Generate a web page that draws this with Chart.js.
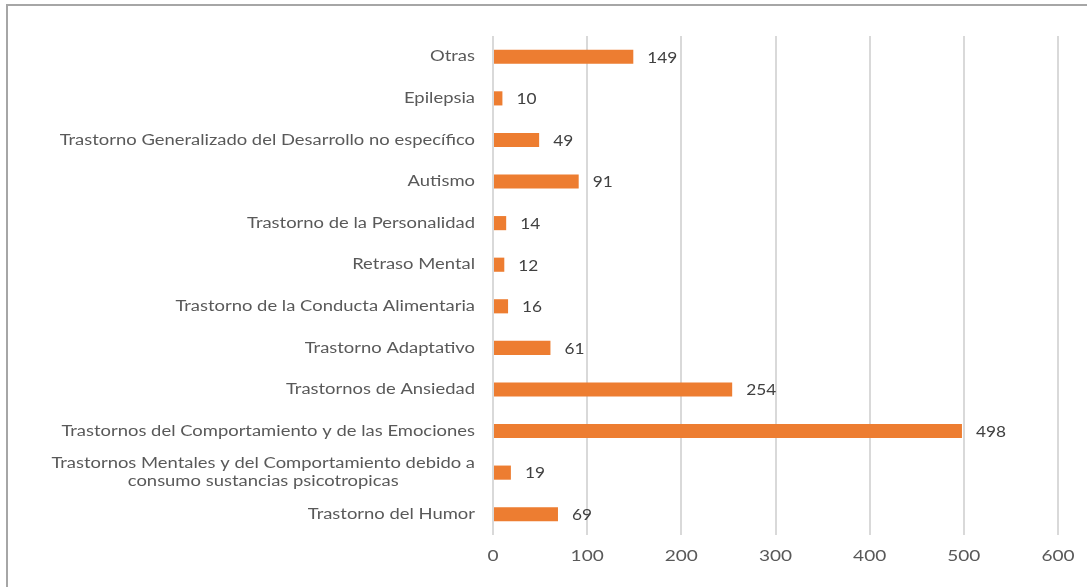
<!DOCTYPE html>
<html>
<head>
<meta charset="utf-8">
<script src="https://cdn.jsdelivr.net/npm/chart.js@4.4.1/dist/chart.umd.min.js"></script>
<style>
  html, body { margin: 0; padding: 0; background: #fff; }
  #wrap { position: relative; width: 1087px; height: 587px; overflow: hidden; }
  #frame { position: absolute; left: 6px; top: 4px; width: 1200px; height: 700px;
           border-left: 2px solid #a6a6a6; border-top: 2px solid #a6a6a6; box-sizing: border-box; }
  canvas { position: absolute; left: 0; top: 0; }
</style>
</head>
<body>
<div id="wrap">
  <div id="frame"></div>
  <canvas id="c" width="1087" height="587"></canvas>
</div>
<script>
const categories = [
  ["Otras"],
  ["Epilepsia"],
  ["Trastorno Generalizado del Desarrollo no específico"],
  ["Autismo"],
  ["Trastorno de la Personalidad"],
  ["Retraso Mental"],
  ["Trastorno de la Conducta Alimentaria"],
  ["Trastorno Adaptativo"],
  ["Trastornos de Ansiedad"],
  ["Trastornos del Comportamiento y de las Emociones"],
  ["Trastornos Mentales y del Comportamiento debido a", "consumo sustancias psicotropicas"],
  ["Trastorno del Humor"]
];
const values = [149, 10, 49, 91, 14, 12, 16, 61, 254, 498, 19, 69];
const xTicks = [0, 100, 200, 300, 400, 500, 600];

const FONT = "Lato, 'Open Sans', sans-serif";
const TEXT_COLOR = "#595959";
const SX = 1.27; // horizontal stretch of the reference text

function stretchedText(ctx, text, x, y, align, sx) {
  ctx.save();
  ctx.translate(x, y);
  ctx.scale(sx, 1);
  ctx.textAlign = align;
  ctx.fillText(text, 0, 0);
  ctx.restore();
}

const labelPlugin = {
  id: 'customLabels',
  afterDatasetsDraw(chart) {
    const ctx = chart.ctx;
    const y = chart.scales.y;
    const x = chart.scales.x;
    const meta = chart.getDatasetMeta(0);
    ctx.save();
    ctx.textBaseline = 'middle';
    // category labels
    ctx.font = "14.5px " + FONT;
    ctx.fillStyle = TEXT_COLOR;
    const rightX = y.right - 18;
    const lh = 18;
    categories.forEach((lines, i) => {
      const cy = y.getPixelForValue(i);
      const maxW = Math.max(...lines.map(l => ctx.measureText(l).width)) * SX;
      const centerX = rightX - maxW / 2;
      lines.forEach((l, k) => {
        const ly = cy + (k - (lines.length - 1) / 2) * lh;
        stretchedText(ctx, l, centerX, ly, 'center', SX);
      });
    });
    // x tick labels
    ctx.font = "15px " + FONT;
    xTicks.forEach(v => {
      stretchedText(ctx, String(v), x.getPixelForValue(v), x.top + 21, 'center', SX);
    });
    // value labels
    ctx.font = "15px " + FONT;
    ctx.fillStyle = "#404040";
    meta.data.forEach((bar, i) => {
      stretchedText(ctx, String(values[i]), bar.x + 14, bar.y + 1, 'left', 1.15);
    });
    ctx.restore();
  }
};

new Chart(document.getElementById('c'), {
  type: 'bar',
  data: {
    labels: categories,
    datasets: [{
      data: values,
      backgroundColor: '#ED7D31',
      borderWidth: 0,
      categoryPercentage: 0.68,
      barPercentage: 0.5
    }]
  },
  plugins: [labelPlugin],
  options: {
    indexAxis: 'y',
    responsive: false,
    animation: false,
    devicePixelRatio: 1,
    layout: { padding: { left: 0, right: 29, top: 36, bottom: 0 } },
    plugins: { legend: { display: false }, tooltip: { enabled: false } },
    scales: {
      x: {
        min: 0, max: 600,
        afterBuildTicks(scale) { scale.ticks = xTicks.map(v => ({ value: v })); },
        afterFit(scale) { scale.height = 52; },
        grid: { color: '#d9d9d9', lineWidth: 2, drawTicks: false },
        border: { display: false },
        ticks: { padding: 12, color: 'rgba(0,0,0,0)', font: { family: FONT, size: 15 } }
      },
      y: {
        afterFit(scale) { scale.width = 493; },
        grid: { display: false, drawTicks: false },
        border: { display: false },
        ticks: { display: false }
      }
    }
  }
});
</script>
</body>
</html>
